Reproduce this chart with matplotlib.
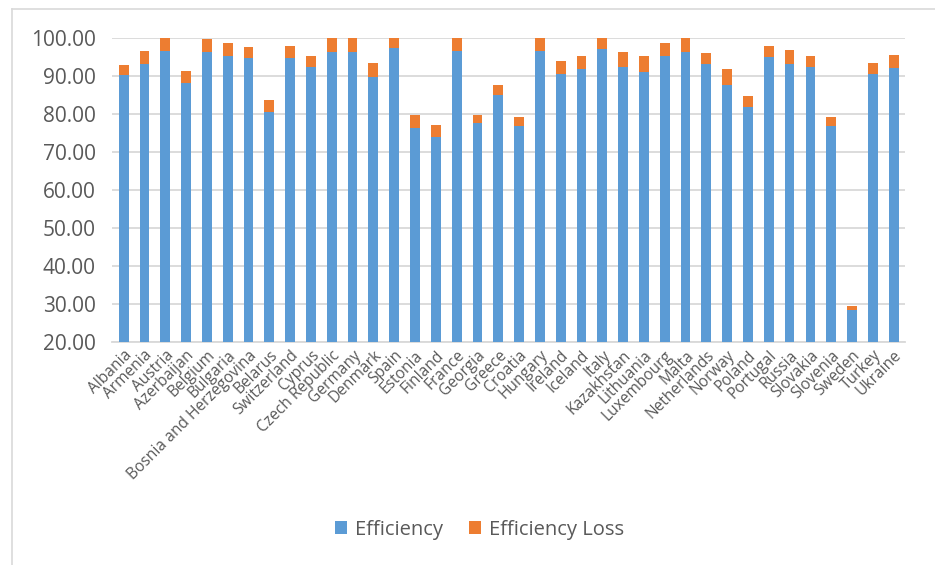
import matplotlib.pyplot as plt
import numpy as np
from matplotlib.lines import Line2D

countries = [
    "Albania", "Armenia", "Austria", "Azerbaijan", "Belgium", "Bulgaria",
    "Bosnia and Herzegovina", "Belarus", "Switzerland", "Cyprus",
    "Czech Republic", "Germany", "Denmark", "Spain", "Estonia", "Finland",
    "France", "Georgia", "Greece", "Croatia", "Hungary", "Ireland", "Iceland",
    "Italy", "Kazakhstan", "Lithuania", "Luxembourg", "Malta", "Netherlands",
    "Norway", "Poland", "Portugal", "Russia", "Slovakia", "Slovenia",
    "Sweden", "Turkey", "Ukraine",
]

efficiency = [
    90.1, 93.0, 96.6, 88.1, 96.3, 95.2, 94.7, 80.5, 94.7, 92.4,
    96.3, 96.3, 89.7, 97.2, 76.2, 74.0, 96.6, 77.5, 85.0, 76.8,
    96.6, 90.6, 91.7, 97.0, 92.4, 90.9, 95.2, 96.3, 93.0, 87.7,
    81.7, 95.0, 93.0, 92.4, 76.8, 28.5, 90.6, 92.0,
]

total = [
    92.9, 96.6, 100.0, 91.3, 99.6, 98.6, 97.6, 83.7, 97.8, 95.2,
    100.0, 100.0, 93.5, 100.0, 79.8, 77.1, 100.0, 79.8, 87.6, 79.1,
    100.0, 93.9, 95.2, 100.0, 96.2, 95.2, 98.6, 100.0, 95.9, 91.7,
    84.7, 97.9, 96.9, 95.2, 79.1, 29.5, 93.5, 95.6,
]

efficiency_loss = [t - e for t, e in zip(total, efficiency)]

blue = "#5B9BD5"
orange = "#ED7D31"
text_color = "#595959"
grid_color = "#D9D9D9"

plt.rcParams["font.family"] = ["Open Sans", "DejaVu Sans"]

fig = plt.figure(figsize=(9.35, 5.65), dpi=100)
ax = fig.add_axes([0.12, 0.395, 0.848, 0.538])

x = np.arange(len(countries))
ax.bar(x, efficiency, width=0.47, color=blue, label="Efficiency", zorder=3)
ax.bar(x, efficiency_loss, width=0.47, bottom=efficiency, color=orange,
       label="Efficiency Loss", zorder=3)

ax.set_ylim(20, 100)
ax.set_xlim(-0.55, len(countries) - 0.45)
ax.set_yticks(np.arange(20, 101, 10))
ax.set_yticklabels([f"{v:.2f}" for v in np.arange(20, 101, 10)],
                   fontsize=15, color=text_color)
ax.set_xticks(x)
ax.set_xticklabels(countries, rotation=45, ha="right", rotation_mode="anchor",
                   fontsize=11.2, color=text_color)
ax.tick_params(axis="both", length=0)
ax.tick_params(axis="y", pad=12)
ax.tick_params(axis="x", pad=4)

ax.grid(axis="y", color=grid_color, linewidth=1.3, zorder=0)
for side in ["top", "right", "left"]:
    ax.spines[side].set_visible(False)
ax.spines["bottom"].set_color(grid_color)
ax.spines["bottom"].set_linewidth(1.3)

ax.legend(loc="center", bbox_to_anchor=(0.513, 0.062),
          bbox_transform=fig.transFigure, ncol=2, frameon=False,
          fontsize=14.5, labelcolor=text_color, handlelength=0.6,
          handleheight=0.6, handletextpad=0.4, columnspacing=1.3)

# light border of the chart area (top and left edges)
fig.add_artist(Line2D([12 / 935, 1], [1 - 9 / 565, 1 - 9 / 565],
                      transform=fig.transFigure, color="#D9D9D9", linewidth=1.2))
fig.add_artist(Line2D([12 / 935, 12 / 935], [0, 1 - 9 / 565],
                      transform=fig.transFigure, color="#D9D9D9", linewidth=1.2))

fig.savefig("out.png", dpi=100)
